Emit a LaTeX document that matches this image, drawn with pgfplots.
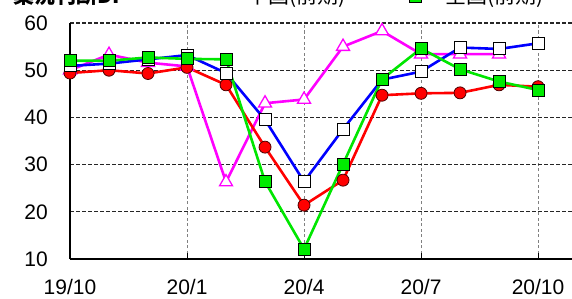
\documentclass[border=0pt]{standalone}
\usepackage{fontspec}
\setmainfont{Liberation Sans}
\newfontfamily\cjk{Noto Sans CJK JP}
\usepackage{pgfplots}
\pgfplotsset{compat=1.18}
\usetikzlibrary{shapes.geometric}
\definecolor{cmag}{RGB}{255,0,255}
\definecolor{cred}{RGB}{255,0,0}
\definecolor{cblue}{RGB}{0,0,255}
\definecolor{cgreen}{RGB}{0,230,0}
\definecolor{cgreenf}{RGB}{0,235,0}
\begin{document}
\begin{tikzpicture}[x=1pt,y=1pt]
\begin{axis}[
  at={(70pt,39pt)}, anchor=origin,
  scale only axis, width=502pt, height=236pt,
  xmin=0, xmax=12.87, ymin=10, ymax=60,
  clip=false,
  axis x line*=bottom, axis y line*=left,
  axis line style={black, line width=1.3pt, -},
  xtick={0,3,6,9,12},
  xticklabels={19/10,20/1,20/4,20/7,20/10},
  ytick={10,20,30,40,50,60},
  /pgf/number format/assume math mode=true,
  tick label style={font=\fontsize{21}{21}\selectfont, black},
  xticklabel style={anchor=north, inner sep=0pt, yshift=-20pt},
  yticklabel style={anchor=east, inner sep=0pt, xshift=-22pt},
  major tick length=6pt,
  xtick style={black, line width=1pt},
  ytick style={draw=none},
  tick align=inside,
  xmajorgrids, ymajorgrids,
  x grid style={gray, dash pattern=on 3pt off 2.5pt, line width=0.9pt},
  y grid style={black!85, dash pattern=on 4pt off 2pt, line width=1.3pt},
]
% magenta
\addplot[cmag, line width=2.6pt, mark=triangle*, mark size=7.5pt,
  mark options={fill=white, draw=cmag, line width=1.3pt, solid}]
  coordinates {(0,50) (1,53.3) (2,51.6) (3,50.8) (4,26.3) (5,43.0) (6,43.8)
  (7,55.0) (8,58.3) (9,53.4) (10,53.4) (11,53.4)};
% red
\addplot[cred, line width=2.6pt, mark=*, mark size=6pt,
  mark options={fill=cred, draw=black!70!red, line width=0.8pt}]
  coordinates {(0,49.4) (1,50.0) (2,49.3) (3,50.6) (4,46.9) (5,33.7) (6,21.4)
  (7,26.7) (8,44.7) (9,45.1) (10,45.2) (11,46.9) (12,46.5)};
% blue
\addplot[cblue, line width=2.6pt, mark=square*, mark size=6pt,
  mark options={fill=white, draw=black, line width=1pt}]
  coordinates {(0,50.9) (1,51.4) (2,52.3) (3,53.2) (4,49.4) (5,39.5) (6,26.4)
  (7,37.5) (8,48.0) (9,49.7) (10,54.8) (11,54.5) (12,55.7)};
% green
\addplot[cgreen, line width=2.6pt, mark=square*, mark size=6pt,
  mark options={fill=cgreenf, draw=black, line width=1pt}]
  coordinates {(0,52.0) (1,52.0) (2,52.7) (3,52.4) (4,52.3) (5,26.4) (6,12.1)
  (7,30.1) (8,48.1) (9,54.6) (10,50.2) (11,47.6) (12,45.8)};
\end{axis}
% title and legend (clipped at top edge like the reference)
\node[anchor=base west, inner sep=0pt, font=\cjk\bfseries\fontsize{21}{21}\selectfont] at (13,294.5) {業況判断DI};
\node[regular polygon, regular polygon sides=3, draw=cmag, fill=white, line width=1.3pt, minimum size=14pt, inner sep=0pt] at (215,302.5) {};
\node[anchor=base west, inner sep=0pt, font=\cjk\fontsize{21}{21}\selectfont] at (247,294.5) {中国(前期)};
\node[rectangle, draw=black, fill=cgreenf, line width=1pt, minimum size=12pt, inner sep=0pt] at (415,301.5) {};
\node[anchor=base west, inner sep=0pt, font=\cjk\fontsize{21}{21}\selectfont] at (445,294.5) {全国(前期)};
\pgfresetboundingbox
\useasboundingbox (0,0) rectangle (572,298);
\end{tikzpicture}
\end{document}
